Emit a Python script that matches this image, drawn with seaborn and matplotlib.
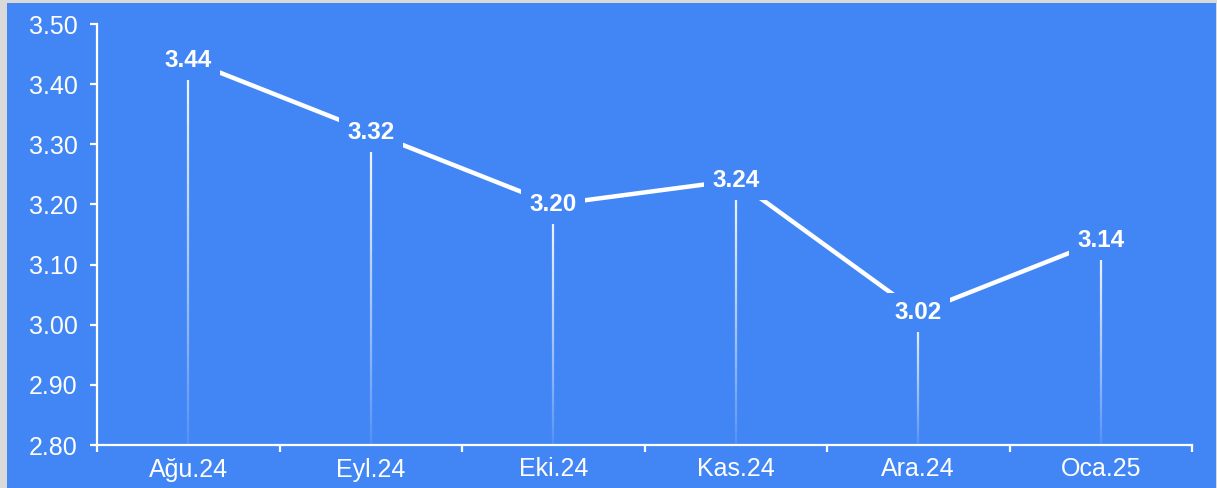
import numpy as np
import pandas as pd
import matplotlib
matplotlib.use("Agg")
import matplotlib.pyplot as plt
from matplotlib.collections import LineCollection
from matplotlib.patches import Rectangle
import seaborn as sns

# Monthly values
months = ["Ağu.24", "Eyl.24", "Eki.24", "Kas.24", "Ara.24", "Oca.25"]
values = [3.44, 3.32, 3.20, 3.24, 3.02, 3.14]
y_ticks = [2.80, 2.90, 3.00, 3.10, 3.20, 3.30, 3.40, 3.50]

BLUE = "#4286f5"
BORDER = "#d9d9d9"

sns.set_theme(style="white")
plt.rcParams["font.family"] = ["Liberation Sans", "DejaVu Sans"]

df = pd.DataFrame({"pos": np.arange(len(months)), "value": values})

fig = plt.figure(figsize=(12.17, 4.88), dpi=100, facecolor=BORDER)
# blue panel inside a thin grey frame
fig.patches.append(Rectangle((7 / 1217, 0), 1 - 8 / 1217, 1 - 3 / 488,
                             transform=fig.transFigure, facecolor=BLUE,
                             edgecolor="none", zorder=-10))

ax = fig.add_axes([97 / 1217, 1 - 445 / 488, (1192 - 97) / 1217, (445 - 24) / 488])
ax.set_facecolor("none")
ax.set_zorder(5)

ymin, ymax = y_ticks[0], y_ticks[-1]

# fading drop lines from each point to the baseline
n_seg = 60
for i, v in enumerate(values):
    ys = np.linspace(ymin, v, n_seg + 1)
    segs = [[(i, ys[k]), (i, ys[k + 1])] for k in range(n_seg)]
    alphas = np.linspace(0.05, 0.95, n_seg) ** 0.8
    colors = [(1, 1, 1, a) for a in alphas]
    ax.add_collection(LineCollection(segs, colors=colors, linewidths=1.6, zorder=2))

sns.lineplot(data=df, x="pos", y="value", ax=ax, color="white",
             linewidth=3.2, zorder=3, legend=False)

for i, v in enumerate(values):
    ax.text(i, v, f"{v:.2f}", ha="center", va="center", color="white",
            fontsize=17.5, fontweight="bold", zorder=5,
            bbox=dict(boxstyle="square,pad=0.34", facecolor=BLUE, edgecolor="none"))

ax.set_xlim(-0.5, len(months) - 0.5)
ax.set_ylim(ymin, ymax)
ax.set_yticks(y_ticks)
ax.set_yticklabels([f"{t:.2f}" for t in y_ticks])

# category boundaries carry the tick marks, labels sit centred in each band
ax.set_xticks(np.arange(len(months) + 1) - 0.5)
ax.set_xticklabels([])
ax.set_xticks(np.arange(len(months)), minor=True)
ax.set_xticklabels(months, minor=True)
ax.tick_params(axis="x", which="minor", bottom=False, length=0, pad=9,
               labelsize=18, labelcolor="white")
ax.tick_params(axis="x", which="major", bottom=True, length=5, width=1.6,
               color="white", direction="out")
ax.tick_params(axis="y", left=True, length=5, width=1.6, color="white", direction="out",
               labelsize=18, labelcolor="white", pad=9)

for side in ["top", "right"]:
    ax.spines[side].set_visible(False)
for side in ["left", "bottom"]:
    ax.spines[side].set_color("white")
    ax.spines[side].set_linewidth(1.6)

ax.set_xlabel("")
ax.set_ylabel("")
ax.grid(False)

fig.savefig("out.png", dpi=100, facecolor=fig.get_facecolor())
